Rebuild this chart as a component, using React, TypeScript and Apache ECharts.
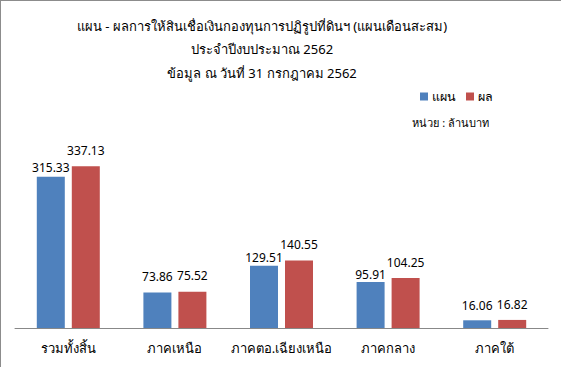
import React, { useEffect, useRef } from "react";
import * as echarts from "echarts";

const categories = ["รวมทั้งสิ้น", "ภาคเหนือ", "ภาคตอ.เฉียงเหนือ", "ภาคกลาง", "ภาคใต้"];
const planValues = [315.33, 73.86, 129.51, 95.91, 16.06];
const resultValues = [337.13, 75.52, 140.55, 104.25, 16.82];
const seriesNames = ["แผน", "ผล"];
const titleLines = [
  "แผน - ผลการให้สินเชื่อเงินกองทุนการปฏิรูปที่ดินฯ (แผนเดือนสะสม)",
  "ประจำปีงบประมาณ 2562",
  "ข้อมูล ณ วันที่ 31 กรกฎาคม 2562",
];
const unitText = "หน่วย : ล้านบาท";

// label gaps above bars (style only)
const planLabelGap = [3, 10, 2, 1, 9];
const resultLabelGap = [10, 10, 10, 9, 9];

const FONT = "Tahoma, 'Noto Sans', 'DejaVu Sans', sans-serif";

export default function App() {
  const ref = useRef<HTMLDivElement>(null);
  useEffect(() => {
    if (!ref.current) return;
    const chart = echarts.init(ref.current, null, { renderer: "svg" });
    const labelBase = { show: true, position: "top", fontFamily: FONT, fontSize: 12, color: "#000" };
    chart.setOption({
      animation: false,
      backgroundColor: "#ffffff",
      textStyle: { fontFamily: FONT },
      title: {
        text: titleLines.join("\n"),
        left: 261,
        textAlign: "center",
        top: 13,
        padding: 0,
        textStyle: {
          fontFamily: FONT,
          fontSize: 13,
          fontWeight: "normal",
          color: "#000",
          lineHeight: 23.5,
        },
      },
      legend: {
        data: seriesNames,
        right: 68,
        top: 89,
        padding: 0,
        itemWidth: 8,
        itemHeight: 8,
        itemGap: 10,
        icon: "rect",
        textStyle: { fontFamily: FONT, fontSize: 12.5, color: "#000", padding: [0, 0, 0, -1] },
      },
      graphic: [
        {
          type: "text",
          right: 72,
          top: 116,
          style: { text: unitText, font: `11px ${FONT}`, fill: "#000" },
        },
      ],
      grid: { left: 14, right: 13, top: 135, bottom: 39, containLabel: false },
      xAxis: {
        type: "category",
        data: categories,
        axisLine: { lineStyle: { color: "#888", width: 1 } },
        axisTick: { show: false },
        axisLabel: { fontFamily: FONT, fontSize: 13, color: "#000", margin: 13, interval: 0 },
      },
      yAxis: {
        type: "value",
        min: 0,
        max: 400,
        show: false,
        splitLine: { show: false },
      },
      series: [
        {
          name: seriesNames[0],
          type: "bar",
          data: planValues.map((v, i) => ({ value: v, label: { distance: planLabelGap[i] } })),
          barWidth: 28,
          barGap: "25%",
          itemStyle: { color: "#4f81bd" },
          label: labelBase,
        },
        {
          name: seriesNames[1],
          type: "bar",
          data: resultValues.map((v, i) => ({ value: v, label: { distance: resultLabelGap[i] } })),
          barWidth: 28,
          barGap: "25%",
          itemStyle: { color: "#c0504d" },
          label: labelBase,
        },
      ],
    });
    return () => chart.dispose();
  }, []);
  return (
    <div
      style={{
        position: "fixed",
        left: 0,
        top: 0,
        width: 561,
        height: 367,
        boxSizing: "border-box",
        borderLeft: "1px solid #8c8c8c",
        borderTop: "1px solid #8c8c8c",
        background: "#fff",
      }}
    >
      <div ref={ref} style={{ width: 560, height: 366 }} />
    </div>
  );
}
